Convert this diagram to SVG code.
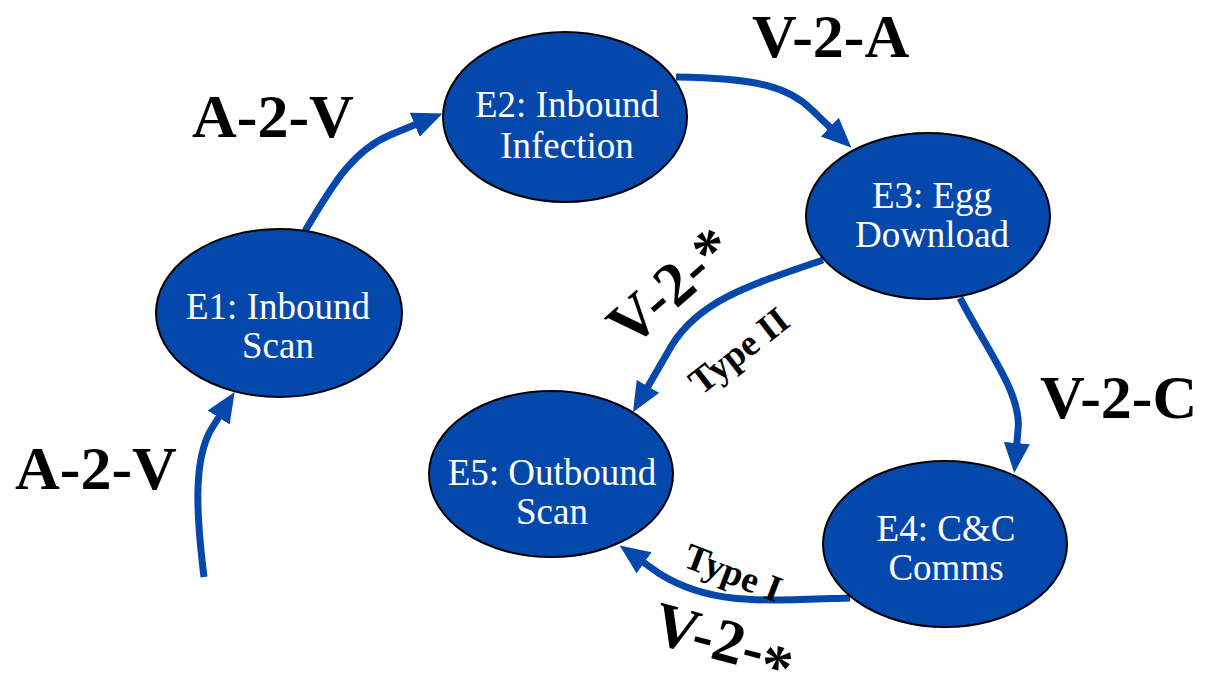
<svg xmlns="http://www.w3.org/2000/svg" width="1205" height="684" viewBox="0 0 1205 684">
  <style>
    .node { fill: #0548AB; stroke: #000; stroke-width: 2; }
    .ntext { font-family: "Liberation Serif", "Times New Roman", serif; font-size: 37px; fill: #fff; text-anchor: middle; }
    .edge { fill: none; stroke: #0548AB; stroke-width: 7; marker-end: url(#arrow); }
    .lbl { font-family: "Liberation Serif", "Times New Roman", serif; font-weight: bold; font-size: 62px; fill: #000; }
    .small { font-family: "Liberation Serif", "Times New Roman", serif; font-weight: bold; font-size: 37px; fill: #000; text-anchor: middle; }
  </style>
  <defs>
    <marker id="arrow" markerUnits="userSpaceOnUse" markerWidth="32" markerHeight="28" refX="10" refY="13" orient="auto">
      <path d="M0,0 L30,13 L0,26 z" fill="#0548AB"/>
    </marker>
  </defs>
  <rect width="1205" height="684" fill="#fff"/>

  <!-- connectors -->
  <g id="connectors">
    <path class="edge" d="M204,577 C197,520 192,460 212,428 L224,409"/>
    <path class="edge" d="M305,231 C330,190 350,152 390,135 L424,121"/>
    <path class="edge" d="M676,77 C760,78 790,88 812,110 L837,134"/>
    <path class="edge" d="M960,298 C990,355 1022,395 1018,430 L1016,453"/>
    <path class="edge" d="M823,260 C750,285 700,300 672,345 L643,395"/>
    <path class="edge" d="M850,598 C760,601 710,605 660,574 L636,557"/>
  </g>

  <!-- nodes -->
  <g id="E1">
    <ellipse class="node" cx="279" cy="313" rx="123" ry="84"/>
    <text class="ntext" x="278" y="319">E1: Inbound</text>
    <text class="ntext" x="278" y="358">Scan</text>
  </g>
  <g id="E2">
    <ellipse class="node" cx="565" cy="117" rx="122" ry="85"/>
    <text class="ntext" x="567" y="117">E2: Inbound</text>
    <text class="ntext" x="567" y="158">Infection</text>
  </g>
  <g id="E3">
    <ellipse class="node" cx="928" cy="216" rx="122" ry="83"/>
    <text class="ntext" x="932" y="208">E3: Egg</text>
    <text class="ntext" x="932" y="247">Download</text>
  </g>
  <g id="E4">
    <ellipse class="node" cx="945" cy="544" rx="122" ry="83"/>
    <text class="ntext" x="946" y="541">E4: C&amp;C</text>
    <text class="ntext" x="946" y="580">Comms</text>
  </g>
  <g id="E5">
    <ellipse class="node" cx="551" cy="474" rx="122" ry="83"/>
    <text class="ntext" x="552" y="485">E5: Outbound</text>
    <text class="ntext" x="552" y="524">Scan</text>
  </g>

  <!-- edge labels -->
  <g id="labels">
    <text class="lbl" x="192" y="137">A-2-V</text>
    <text class="lbl" x="15" y="489">A-2-V</text>
    <text class="lbl" x="752" y="57">V-2-A</text>
    <text class="lbl" x="1040" y="418">V-2-C</text>
    <text class="lbl" text-anchor="middle" transform="translate(671,287) rotate(-41)" y="20">V-2-*</text>
    <text class="lbl" text-anchor="middle" transform="translate(724,643) rotate(15)" y="18">V-2-<tspan dy="12">*</tspan></text>
    <text class="small" transform="translate(739,351) rotate(-38)" y="12">Type II</text>
    <text class="small" transform="translate(733,573) rotate(21)" y="12">Type I</text>
  </g>
</svg>
